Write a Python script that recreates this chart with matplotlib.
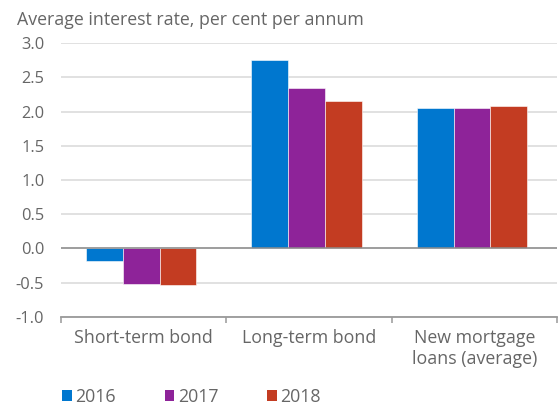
import matplotlib

matplotlib.use("Agg")
import matplotlib.pyplot as plt
import numpy as np
from matplotlib.patches import Patch

plt.rcParams["font.family"] = ["Open Sans", "DejaVu Sans"]

categories = ["Short-term bond", "Long-term bond", "New mortgage\nloans (average)"]
years = ["2016", "2017", "2018"]
rates_2016 = [-0.18, 2.76, 2.06]
rates_2017 = [-0.52, 2.35, 2.06]
rates_2018 = [-0.53, 2.16, 2.08]
y_ticks = [-1.0, -0.5, 0.0, 0.5, 1.0, 1.5, 2.0, 2.5, 3.0]

colors = ["#0077cf", "#8e2399", "#c33c22"]
text_color = "#666666"

fig = plt.figure(figsize=(5.58, 4.05), dpi=100)
ax = fig.add_axes([61 / 558, 1 - 316.7 / 405, 496 / 558, 273.4 / 405])

x = np.arange(len(categories))
width = 0.222
series = [rates_2016, rates_2017, rates_2018]
for i, (vals, col) in enumerate(zip(series, colors)):
    ax.bar(x + (i - 1) * width - 0.015, vals, width, color=col,
           edgecolor="white", linewidth=0.4, zorder=3)

ax.set_xlim(-0.5, len(categories) - 0.5)
ax.set_ylim(-1.0, 3.0)
ax.set_yticks(y_ticks)
ax.set_yticklabels([f"{v:.1f}" for v in y_ticks])
ax.grid(axis="y", color="#d9d9d9", linewidth=1.1, zorder=0)
ax.axhline(0, color="#8c8c8c", linewidth=1.1, zorder=4)

for side in ("left", "right", "top"):
    ax.spines[side].set_visible(False)
ax.spines["bottom"].set_color("#999999")
ax.spines["bottom"].set_linewidth(1.3)

ax.set_xticks(x)
ax.set_xticklabels(categories, linespacing=1.2)
ax.set_xticks(np.arange(len(categories) + 1) - 0.5, minor=True)
ax.tick_params(axis="x", which="major", length=0, pad=9, labelsize=12.8,
               labelcolor=text_color)
ax.tick_params(axis="x", which="minor", length=4, width=1.1, color="#999999")
ax.tick_params(axis="y", length=0, pad=12, labelsize=11.8, labelcolor=text_color)

fig.text(17 / 558, 1 - 25 / 405, "Average interest rate, per cent per annum",
         fontsize=12.8, color=text_color, va="baseline", ha="left")

handles = [Patch(facecolor=c, edgecolor="none") for c in colors]
fig.legend(handles, years, loc="center left", bbox_to_anchor=(62.3 / 558, 1 - 397 / 405),
           ncol=3, frameon=False, fontsize=12.8, labelcolor=text_color,
           handlelength=0.53, handleheight=0.53, handletextpad=0.2,
           columnspacing=2.75, borderpad=0, borderaxespad=0)

fig.savefig("out.png", dpi=100)
